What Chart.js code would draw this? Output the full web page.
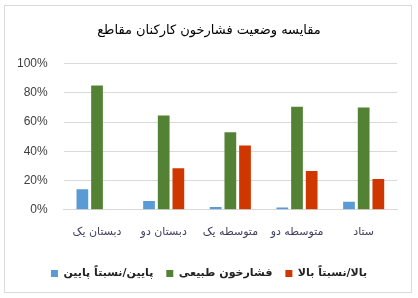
<!DOCTYPE html>
<html>
<head>
<meta charset="utf-8">
<script src="https://cdn.jsdelivr.net/npm/chart.js@4"></script>
<style>
  body { margin: 0; background: #fff; }
  #wrap { position: relative; width: 418px; height: 298px; }
  #frame { position: absolute; left: 4px; top: 5px; width: 406px; height: 286px; border: 1px solid #d9d9d9; pointer-events: none; }
</style>
</head>
<body>
<div id="wrap">
  <canvas id="myChart" width="418" height="298"></canvas>
  <div id="frame"></div>
</div>
<script>
"use strict";
const title = "مقایسه وضعیت فشارخون کارکنان مقاطع";
const categories = ["دبستان یک", "دبستان دو", "متوسطه یک", "متوسطه دو", "ستاد"];
const seriesNames = ["پایین/نسبتاً پایین", "فشارخون طبیعی", "بالا/نسبتاً بالا"];
const lowValues = [14, 6, 2, 1.5, 5.5];
const normalValues = [85, 64.5, 53, 70.5, 70];
const highValues = [0, 28.5, 44, 26.5, 21];
const yTicks = [0, 20, 40, 60, 80, 100];
const colors = ["#5b9bd5", "#548235", "#d03600"];

const ctx = document.getElementById("myChart");
const seriesValues = [lowValues, normalValues, highValues];

// title and legend sit centred on the whole frame, not on the plot
const recentre = {
  id: "recentre",
  afterLayout(chart) {
    for (const box of [chart.titleBlock, chart.legend]) {
      box.left += 10;
      box.right += 10;
    }
  },
};

new Chart(ctx, {
  type: "bar",
  data: {
    labels: categories,
    datasets: seriesValues.map((vals, i) => ({
      label: seriesNames[i],
      data: vals,
      backgroundColor: colors[i],
      borderWidth: 0,
      categoryPercentage: 0.66,
      barPercentage: 0.8,
    })),
  },
  options: {
    responsive: false,
    animation: false,
    layout: { padding: { left: 1, right: 21, top: 8, bottom: 9 } },
    plugins: {
      title: {
        display: true,
        text: title,
        color: "#000",
        font: { family: "DejaVu Sans", size: 13, weight: "normal" },
        padding: { top: 15, bottom: 25 },
      },
      legend: {
        position: "bottom",
        labels: {
          boxWidth: 7,
          boxHeight: 7,
          color: "#222",
          padding: 13,
          font: { family: "DejaVu Sans", size: 11, weight: "bold" },
        },
      },
      tooltip: { enabled: false },
    },
    scales: {
      x: {
        grid: { display: false },
        border: { color: "#d9d9d9" },
        afterFit: (scale) => {
          scale.height += 8;
        },
        ticks: {
          color: "#404060",
          padding: 8,
          font: { family: "DejaVu Sans", size: 11 },
        },
      },
      y: {
        min: 0,
        max: 100,
        afterBuildTicks: (axis) => {
          axis.ticks = yTicks.map((v) => ({ value: v }));
        },
        grid: { color: "#d9d9d9", drawTicks: false },
        border: { display: false },
        ticks: {
          color: "#404040",
          padding: 16,
          font: { family: "Liberation Sans", size: 12 },
          callback: (v) => v + "%",
        },
      },
    },
  },
  plugins: [recentre],
});
</script>
</body>
</html>
